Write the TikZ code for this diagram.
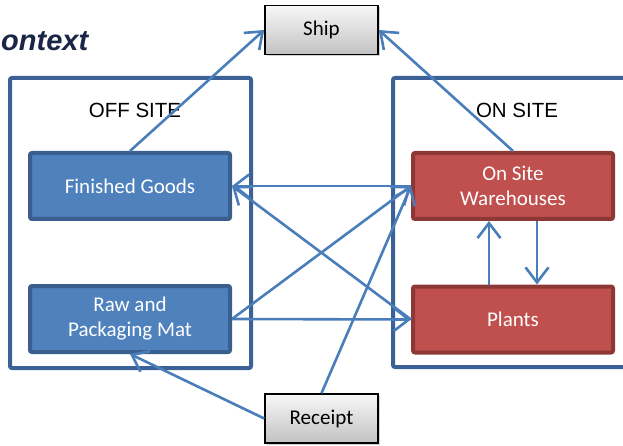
\documentclass[tikz,border=0pt]{standalone}
\usepackage{fontspec}
\setmainfont{Carlito}
\newfontfamily\arialfont{Liberation Sans}
\usetikzlibrary{arrows.meta,shadows,calc}
\definecolor{arrowblue}{HTML}{4A7EBB}
\definecolor{frameblue}{HTML}{3B6196}
\definecolor{boxblue}{HTML}{4F81BD}
\definecolor{boxblueedge}{HTML}{3A5F8E}
\definecolor{boxred}{HTML}{C0504D}
\definecolor{boxrededge}{HTML}{8E3836}
\definecolor{titlenavy}{HTML}{1A2547}
\tikzset{
  frame/.style={draw=frameblue, line width=4pt, rounded corners=2pt},
  bluebox/.style={draw=boxblueedge, fill=boxblue, line width=4pt, rounded corners=2pt,
    minimum width=200pt, minimum height=66pt, text=white, align=center, font=\fontsize{21}{25}\selectfont, inner sep=0pt},
  redbox/.style={bluebox, draw=boxrededge, fill=boxred},
  graybox/.style={draw=black, line width=1.6pt, top color=gray!6, bottom color=gray!48,
    minimum width=113pt, minimum height=49pt, font=\fontsize{21}{25}\selectfont, inner sep=0pt,
    drop shadow={shadow xshift=1.5pt, shadow yshift=-1.5pt, opacity=0.35}},
  flow/.style={draw=arrowblue, line width=2.6pt, -{Straight Barb[length=15pt,width=23pt,line width=2.6pt]}},
  framelabel/.style={font=\arialfont\fontsize{20.5}{24}\selectfont, inner sep=0pt}
}
\begin{document}
\begin{tikzpicture}[x=1pt,y=-1pt]
\useasboundingbox (0,0) rectangle (623,446);
\clip (0,0) rectangle (623,446);
\node[anchor=base west, font=\arialfont\bfseries\itshape\fontsize{29}{34}\selectfont, text=titlenavy, inner sep=0pt] (title) at (1,51) {ontext};
\draw[frame] (10,78) rectangle (251,368);
\draw[frame] (393,78) rectangle (640,367);
\node[framelabel] (offlabel) at (135,110) {OFF SITE};
\node[framelabel] (onlabel) at (517,110) {ON SITE};
\node[bluebox] (fg) at (130,186) {Finished Goods};
\node[bluebox] (raw) at (130,319) {Raw and\\Packaging Mat};
\node[redbox] (osw) at (513,186) {On Site\\Warehouses};
\node[redbox] (plants) at (513,319.5) {Plants};
\node[graybox] (ship) at (321.5,30) {Ship};
\node[graybox] (receipt) at (321.5,418.5) {Receipt};
\draw[flow] (fg.north) -- (ship.west);
\draw[flow] (osw.north) -- (ship.east);
\draw[flow] (osw.west) -- (fg.east);
\draw[flow] (plants.west) -- (fg.east);
\draw[flow] (raw.east) -- (plants.west);
\draw[flow] (raw.east) -- (osw.west);
\draw[flow] (receipt.north) -- (osw.west);
\draw[flow] (receipt.west) -- (raw.south);
\draw[flow] ([xshift=-24pt]plants.north) -- ([xshift=-24pt]osw.south);
\draw[flow] ([xshift=24pt]osw.south) -- ([xshift=24pt]plants.north);
\end{tikzpicture}
\end{document}
